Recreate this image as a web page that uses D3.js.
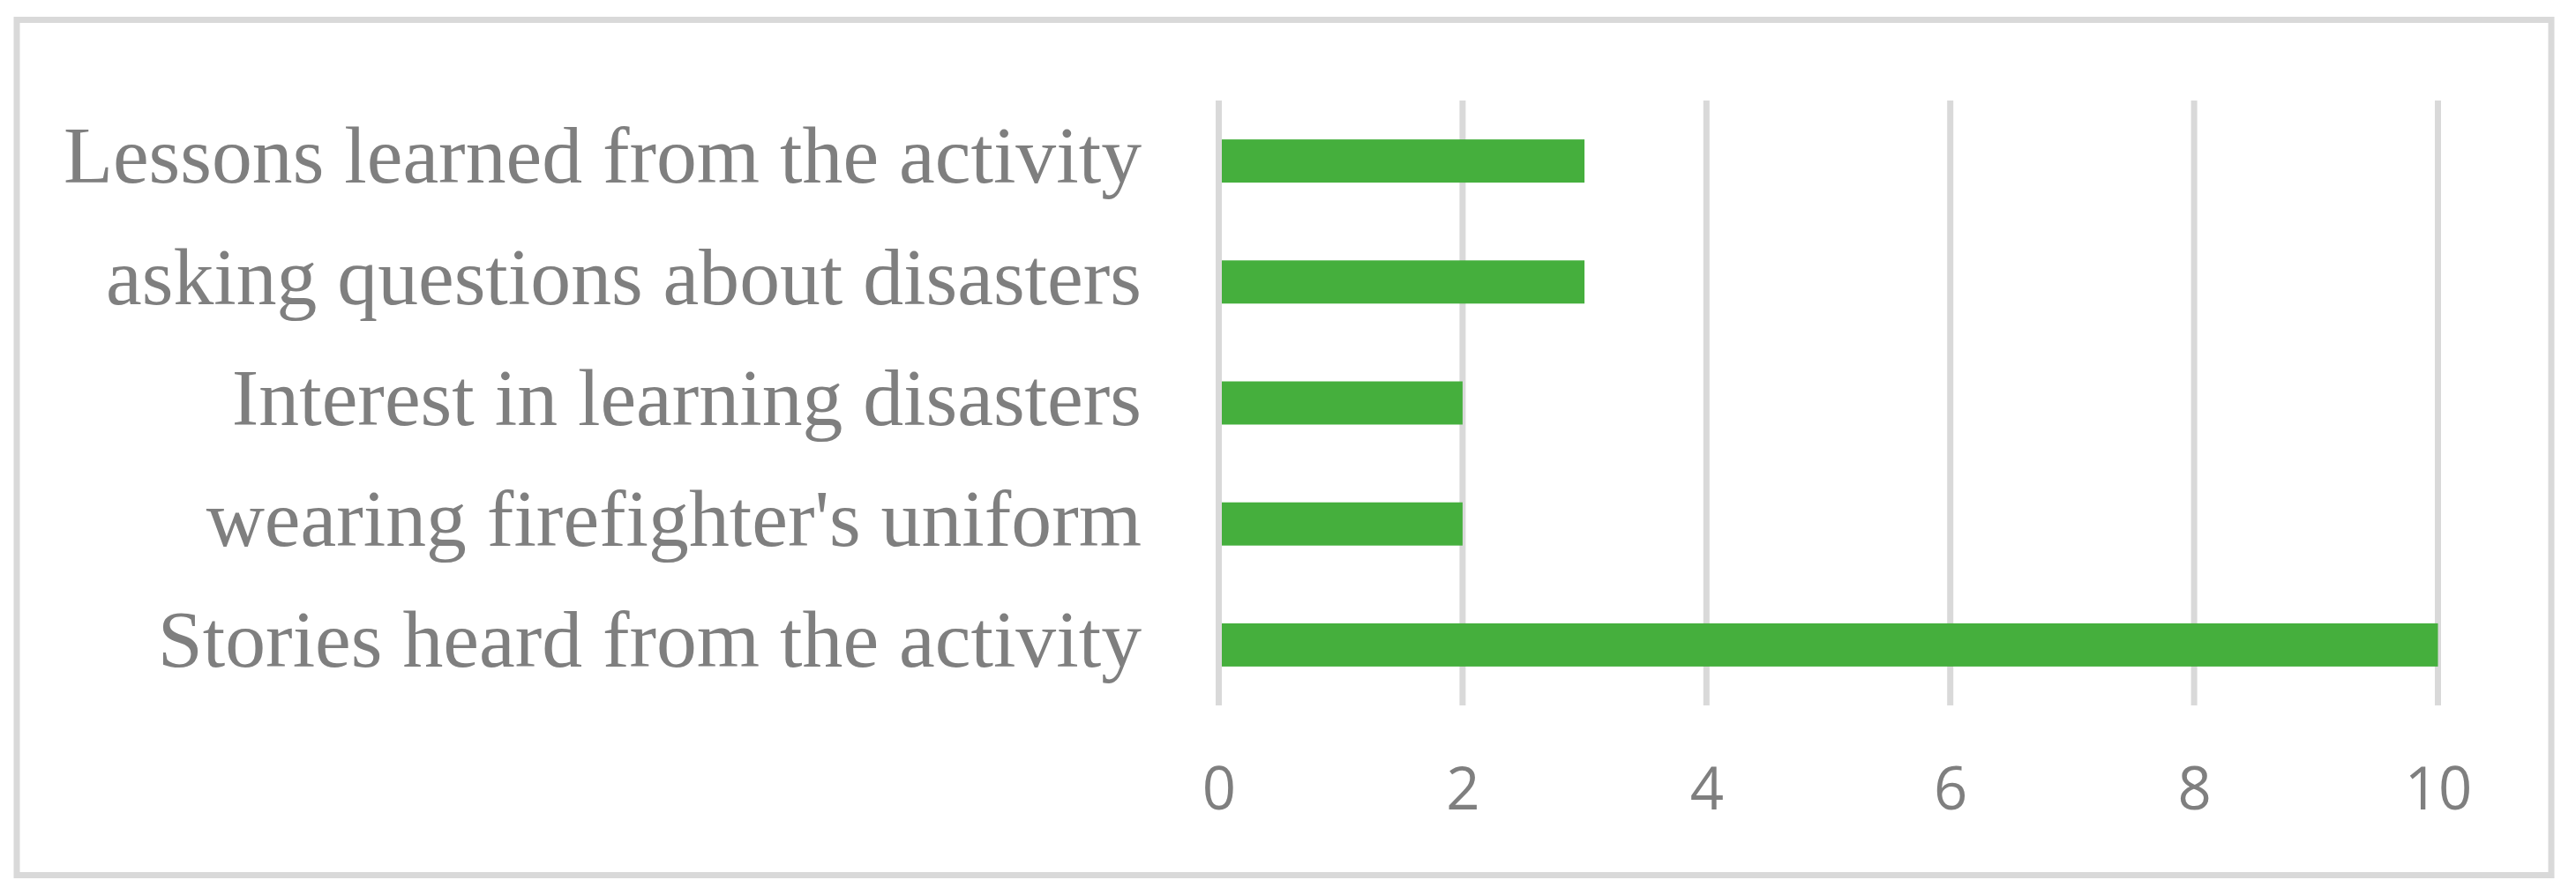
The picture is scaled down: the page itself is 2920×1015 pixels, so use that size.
<!DOCTYPE html>
<html><head><meta charset="utf-8">
<script src="https://cdn.jsdelivr.net/npm/d3@7"></script>
<style>html,body{margin:0;padding:0;background:#fff;}svg{display:block;}</style>
</head><body>
<script>
const categories = ["Lessons learned from the activity","asking questions about disasters","Interest in learning disasters","wearing firefighter's uniform","Stories heard from the activity"];
const values = [3, 3, 2, 2, 10];
const tickValues = [0, 2, 4, 6, 8, 10];

const W = 2920, H = 1015;
const svg = d3.select("body").append("svg").attr("width", W).attr("height", H);

svg.append("rect").attr("x", 19).attr("y", 22.5).attr("width", 2892 - 19).attr("height", 992.5 - 22.5)
  .attr("fill", "#fff").attr("stroke", "#d9d9d9").attr("stroke-width", 7);

const x = d3.scaleLinear().domain([0, 10]).range([1381.5, 2763.5]);
const y = d3.scaleBand().domain(categories).range([114, 800]).paddingInner(0.643).paddingOuter(0.3215);

// gridlines
svg.append("g").selectAll("line").data(tickValues).join("line")
  .attr("x1", d => x(d)).attr("x2", d => x(d)).attr("y1", 114).attr("y2", 800)
  .attr("stroke", "#d9d9d9").attr("stroke-width", 7);

// bars
svg.append("g").selectAll("rect").data(values).join("rect")
  .attr("x", x(0) + 3.5).attr("y", (d, i) => y(categories[i]))
  .attr("width", d => x(d) - x(0) - 3.5).attr("height", y.bandwidth())
  .attr("fill", "#45af3d");

// category labels
svg.append("g").selectAll("text").data(categories).join("text")
  .attr("x", 1294).attr("y", d => y(d) + y.bandwidth() / 2).attr("dy", "0.27em")
  .attr("text-anchor", "end").attr("font-family", "'Liberation Serif', serif")
  .attr("font-size", 91.7).attr("fill", "#7f7f7f").text(d => d);

// x axis tick labels
const ax = svg.append("g").attr("transform", "translate(0,918)")
  .call(d3.axisBottom(x).tickValues(tickValues).tickSize(0).tickPadding(0).tickFormat(d3.format("d")));
ax.select(".domain").remove();
ax.selectAll("text").attr("dy", 0).attr("y", 0).attr("font-family", "'Open Sans', sans-serif")
  .attr("font-size", 67).attr("fill", "#7f7f7f");
</script>
</body></html>
